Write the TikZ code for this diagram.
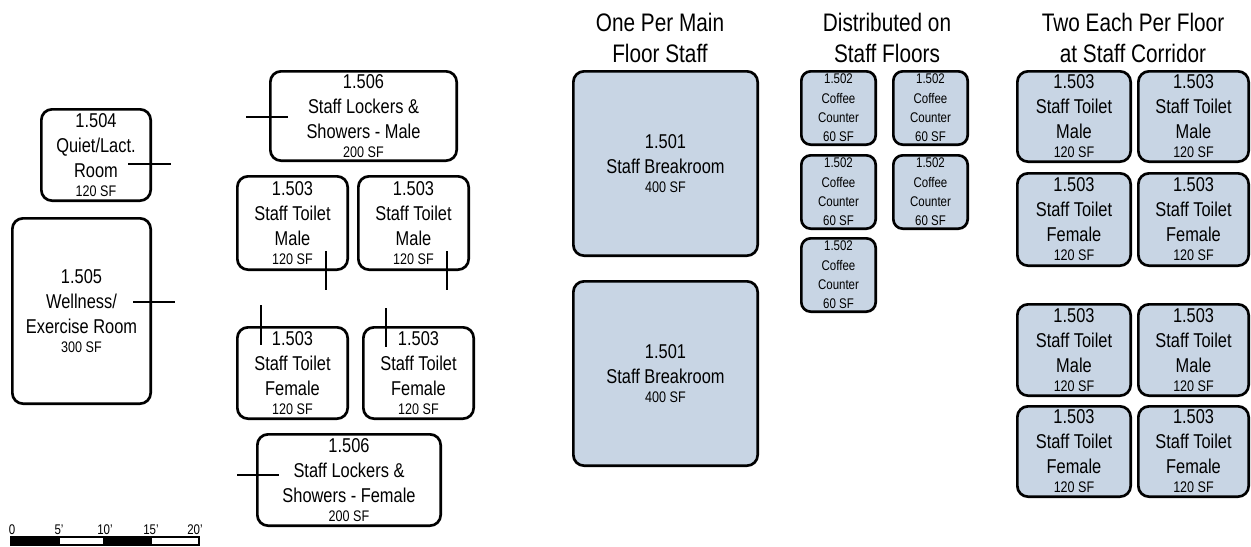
\documentclass[tikz,border=0pt]{standalone}
\usepackage{fontspec}
\setmainfont{Liberation Sans}[FakeStretch=0.82]
\definecolor{roomfill}{HTML}{C8D5E4}
\newcommand\sfl[1]{\\[-4.5pt]{\fontsize{11.5}{13}\selectfont #1}}
\newcommand\roombox[7][]{\node[room,#1,minimum width={(#5-#3)*0.75pt-2pt},minimum height={(#6-#4)*0.75pt-2pt}] (#2) at ({(#3+#5)/2},{(#4+#6)/2}) {#7};}
\tikzset{
  room/.style={draw, line width=2pt, rounded corners=8pt, inner sep=0pt, align=center,
    font=\fontsize{15}{18.75}\selectfont},
  shaded/.style={fill=roomfill},
  small/.style={font=\fontsize{10.5}{14.5}\selectfont, rounded corners=7pt},
  title/.style={align=center, font=\fontsize{19}{23}\selectfont, inner sep=0pt},
  leader/.style={line width=0.8pt},
  scalelbl/.style={anchor=base, inner sep=0pt, font=\fontsize{10.5}{11}\selectfont}
}
\begin{document}
\begin{tikzpicture}[x=0.75pt,y=-0.75pt]
\useasboundingbox (0,0) rectangle (1251,546);
% left group
\roombox{r504}{40}{108}{152}{202}{1.504\\Quiet/Lact.\\Room\sfl{120 SF}}
\roombox{r505}{11}{217}{152}{405}{1.505\\Wellness/\\Exercise Room\sfl{300 SF}}
\roombox{r506m}{269}{70}{458}{162}{1.506\\Staff Lockers \&\\Showers - Male\sfl{200 SF}}
\roombox{r503ma}{236}{175}{349}{271}{1.503\\Staff Toilet\\Male\sfl{120 SF}}
\roombox{r503mb}{357}{175}{470}{271}{1.503\\Staff Toilet\\Male\sfl{120 SF}}
\roombox{r503fa}{236}{326}{349}{420}{1.503\\Staff Toilet\\Female\sfl{120 SF}}
\roombox{r503fb}{362}{326}{475}{420}{1.503\\Staff Toilet\\Female\sfl{120 SF}}
\roombox{r506f}{256}{433}{442}{527}{1.506\\Staff Lockers \&\\Showers - Female\sfl{200 SF}}
% leader lines
\coordinate (l1a) at (128,164); \coordinate (l1b) at (171,164);
\coordinate (l2a) at (133,302); \coordinate (l2b) at (175,302);
\coordinate (l3a) at (246,117); \coordinate (l3b) at (288,117);
\coordinate (l4a) at (326,251); \coordinate (l4b) at (326,290);
\coordinate (l5a) at (447,251); \coordinate (l5b) at (447,290);
\coordinate (l6a) at (261,305); \coordinate (l6b) at (261,345);
\coordinate (l7a) at (386,308); \coordinate (l7b) at (386,347);
\coordinate (l8a) at (237,475); \coordinate (l8b) at (279,475);
\foreach \i in {1,...,8} {\draw[leader] (l\i a) -- (l\i b);}
% scale bar
\coordinate (s0) at (11,537); \coordinate (s1) at (60,545);
\coordinate (s2) at (103,537); \coordinate (s3) at (152,545);
\coordinate (s4) at (199,537);
\fill (s0) rectangle (s1);
\fill (s2) rectangle (s3);
\draw[line width=1pt] (s0) rectangle (s4 |- s1);
\node[scalelbl] (t0) at (12,534) {0};
\node[scalelbl] (t5) at (59,534) {5'};
\node[scalelbl] (t10) at (105,534) {10'};
\node[scalelbl] (t15) at (151,534) {15'};
\node[scalelbl] (t20) at (195,534) {20'};
% titles
\node[title] (h1) at (660,38) {One Per Main\\Floor Staff};
\node[title] (h2) at (887,38) {Distributed on\\Staff Floors};
\node[title] (h3) at (1133,38) {Two Each Per Floor\\at Staff Corridor};
% breakrooms
\roombox[shaded]{b1}{572}{70}{759}{257}{1.501\\Staff Breakroom\sfl{400 SF}}
\roombox[shaded]{b2}{572}{280}{759}{467}{1.501\\Staff Breakroom\sfl{400 SF}}
% coffee counters
\roombox[shaded,small]{c1}{800}{70}{877}{146}{1.502\\Coffee\\Counter\\60 SF}
\roombox[shaded,small]{c2}{892}{70}{969}{146}{1.502\\Coffee\\Counter\\60 SF}
\roombox[shaded,small]{c3}{800}{154}{877}{230}{1.502\\Coffee\\Counter\\60 SF}
\roombox[shaded,small]{c4}{892}{154}{969}{230}{1.502\\Coffee\\Counter\\60 SF}
\roombox[shaded,small]{c5}{800}{237}{877}{313}{1.502\\Coffee\\Counter\\60 SF}
% toilets right
\roombox[shaded]{t1}{1016}{70}{1132}{163}{1.503\\Staff Toilet\\Male\sfl{120 SF}}
\roombox[shaded]{t2}{1137}{70}{1250}{163}{1.503\\Staff Toilet\\Male\sfl{120 SF}}
\roombox[shaded]{t3}{1016}{172}{1132}{267}{1.503\\Staff Toilet\\Female\sfl{120 SF}}
\roombox[shaded]{t4}{1137}{172}{1250}{267}{1.503\\Staff Toilet\\Female\sfl{120 SF}}
\roombox[shaded]{t5}{1016}{303}{1132}{397}{1.503\\Staff Toilet\\Male\sfl{120 SF}}
\roombox[shaded]{t6}{1137}{303}{1250}{397}{1.503\\Staff Toilet\\Male\sfl{120 SF}}
\roombox[shaded]{t7}{1016}{405}{1132}{498}{1.503\\Staff Toilet\\Female\sfl{120 SF}}
\roombox[shaded]{t8}{1137}{405}{1250}{498}{1.503\\Staff Toilet\\Female\sfl{120 SF}}
\end{tikzpicture}
\end{document}
